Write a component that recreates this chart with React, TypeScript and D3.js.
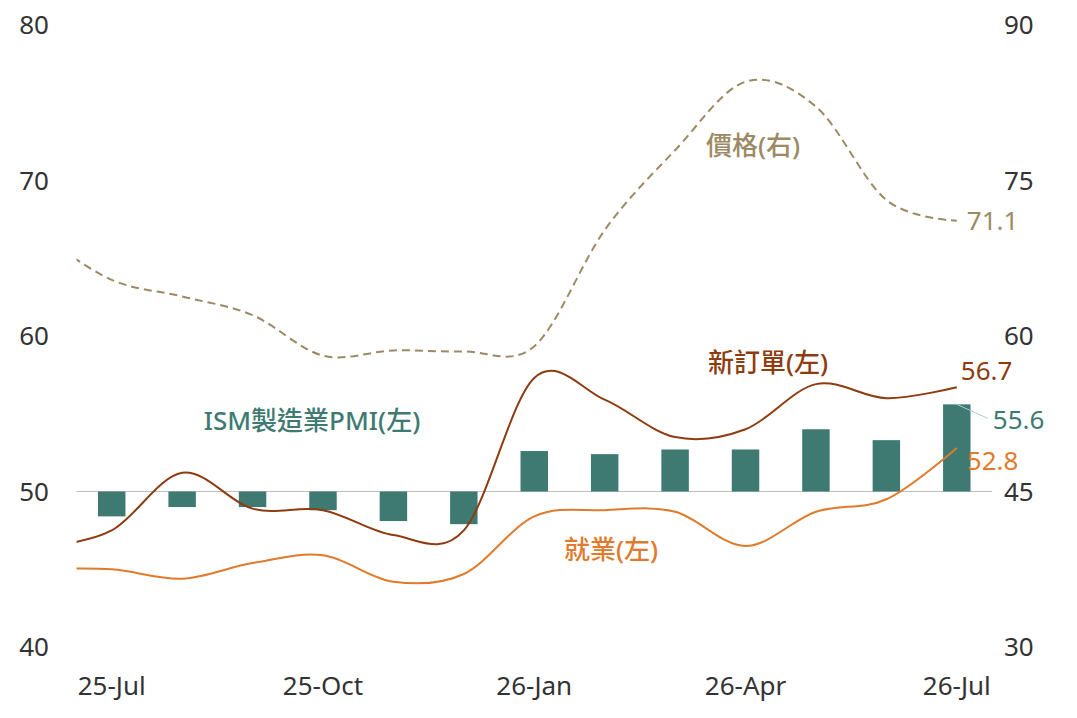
import React from "react";
import * as d3 from "d3";

// Monthly data, 25-Jun .. 26-Jul (25-Jun lies left of the visible axis and is clipped)
const months = ["25-Jun", "25-Jul", "25-Aug", "25-Sep", "25-Oct", "25-Nov", "25-Dec", "26-Jan", "26-Feb", "26-Mar", "26-Apr", "26-May", "26-Jun", "26-Jul"];
const pmi = [49.0, 48.4, 49.0, 49.0, 48.8, 48.1, 47.9, 52.6, 52.4, 52.7, 52.7, 54.0, 53.3, 55.6];
const newOrders = [46.4, 47.5, 51.2, 48.9, 48.8, 47.2, 47.5, 57.3, 55.9, 53.5, 54.0, 56.9, 56.0, 56.7];
const employment = [45.0, 45.0, 44.4, 45.4, 45.9, 44.2, 44.7, 48.4, 48.8, 48.7, 46.5, 48.7, 49.5, 52.8];
const prices = [69.7, 65.4, 63.8, 62.0, 58.1, 58.6, 58.5, 59.0, 70.2, 77.9, 84.5, 82.1, 73.1, 71.1];
const xTickLabels = ["25-Jul", "25-Oct", "26-Jan", "26-Apr", "26-Jul"];
const leftTicks = [40, 50, 60, 70, 80];
const rightTicks = [30, 45, 60, 75, 90];

const W = 1077;
const H = 718;
const plot = { left: 76.5, right: 992, top: 24.7, bottom: 647.1 };

const C = {
  bar: "#3E7A72",
  newOrders: "#8E3B10",
  employment: "#E07A2C",
  prices: "#9C8A64",
  axisText: "#333333",
  grid: "#BFBFBF",
  leader: "#A8D3CC",
};

const FONT = "'Noto Sans', 'Noto Sans CJK TC', sans-serif";
const CJK = "'Noto Sans', 'Noto Sans CJK TC', sans-serif";

export default function App() {
  const x = d3.scaleLinear().domain([0.5, months.length - 0.5]).range([plot.left, plot.right]);
  const step = x(1) - x(0);
  const barW = step * 0.39;
  const yL = d3.scaleLinear().domain([40, 80]).range([plot.bottom, plot.top]);
  const yR = d3.scaleLinear().domain([30, 90]).range([plot.bottom, plot.top]);

  const curve = d3.curveCardinal.tension(0);
  const lineL = d3.line<number>().x((_, i) => x(i)).y((d) => yL(d)).curve(curve);
  const lineR = d3.line<number>().x((_, i) => x(i)).y((d) => yR(d)).curve(curve);

  const last = months.length - 1;
  const lx = x(last);

  return (
    <svg width={W} height={H} style={{ position: "absolute", left: 0, top: 0, background: "#fff" }}>
      <defs>
        <clipPath id="plotClip">
          <rect x={plot.left} y={0} width={plot.right - plot.left} height={H} />
        </clipPath>
      </defs>

      {/* 50 reference line */}
      <line x1={plot.left} x2={plot.right} y1={yL(50)} y2={yL(50)} stroke={C.grid} strokeWidth={1.2} />

      <g clipPath="url(#plotClip)">
        {pmi.map((v, i) => (
          <rect
            key={months[i]}
            x={x(i) - barW / 2}
            width={barW}
            y={Math.min(yL(v), yL(50))}
            height={Math.abs(yL(v) - yL(50))}
            fill={C.bar}
          />
        ))}
        <path d={lineR(prices) || ""} fill="none" stroke={C.prices} strokeWidth={2} strokeDasharray="8,5" />
        <path d={lineL(employment) || ""} fill="none" stroke={C.employment} strokeWidth={2} />
        <path d={lineL(newOrders) || ""} fill="none" stroke={C.newOrders} strokeWidth={2} />
      </g>

      {/* Left axis */}
      {leftTicks.map((t) => (
        <text key={"l" + t} x={49} y={yL(t)} dy="0.36em" textAnchor="end" fontFamily={FONT} fontSize={26} fill={C.axisText}>
          {t}
        </text>
      ))}
      {/* Right axis */}
      {rightTicks.map((t) => (
        <text key={"r" + t} x={1004} y={yR(t)} dy="0.36em" textAnchor="start" fontFamily={FONT} fontSize={26} fill={C.axisText}>
          {t}
        </text>
      ))}
      {/* X axis labels */}
      {xTickLabels.map((lab) => (
        <text key={lab} x={x(months.indexOf(lab))} y={695} textAnchor="middle" fontFamily={FONT} fontSize={26} fill={C.axisText}>
          {lab}
        </text>
      ))}

      {/* Series labels */}
      <text x={753} y={155} textAnchor="middle" fontFamily={CJK} fontSize={26} fontWeight={500} fill={C.prices}>價格(右)</text>
      <text x={768} y={372} textAnchor="middle" fontFamily={CJK} fontSize={26} fontWeight={500} fill={C.newOrders}>新訂單(左)</text>
      <text x={312} y={429.5} textAnchor="middle" fontFamily={CJK} fontSize={26} fontWeight={500} fill={C.bar}>ISM製造業PMI(左)</text>
      <text x={611} y={558.5} textAnchor="middle" fontFamily={CJK} fontSize={26} fontWeight={500} fill={C.employment}>就業(左)</text>

      {/* End value labels */}
      <text x={lx + 10} y={yR(prices[last])} dy="0.36em" fontFamily={FONT} fontSize={26} fill={C.prices}>{prices[last].toFixed(1)}</text>
      <text x={lx + 4} y={yL(newOrders[last]) - 17} dy="0.36em" fontFamily={FONT} fontSize={26} fill={C.newOrders}>{newOrders[last].toFixed(1)}</text>
      <line x1={lx} y1={yL(pmi[last])} x2={lx + 31} y2={yL(pmi[last]) + 14} stroke={C.leader} strokeWidth={1} />
      <text x={lx + 36} y={yL(pmi[last]) + 15} dy="0.36em" fontFamily={FONT} fontSize={26} fill={C.bar}>{pmi[last].toFixed(1)}</text>
      <text x={lx + 10} y={yL(employment[last]) + 12.5} dy="0.36em" fontFamily={FONT} fontSize={26} fill={C.employment}>{employment[last].toFixed(1)}</text>
    </svg>
  );
}
